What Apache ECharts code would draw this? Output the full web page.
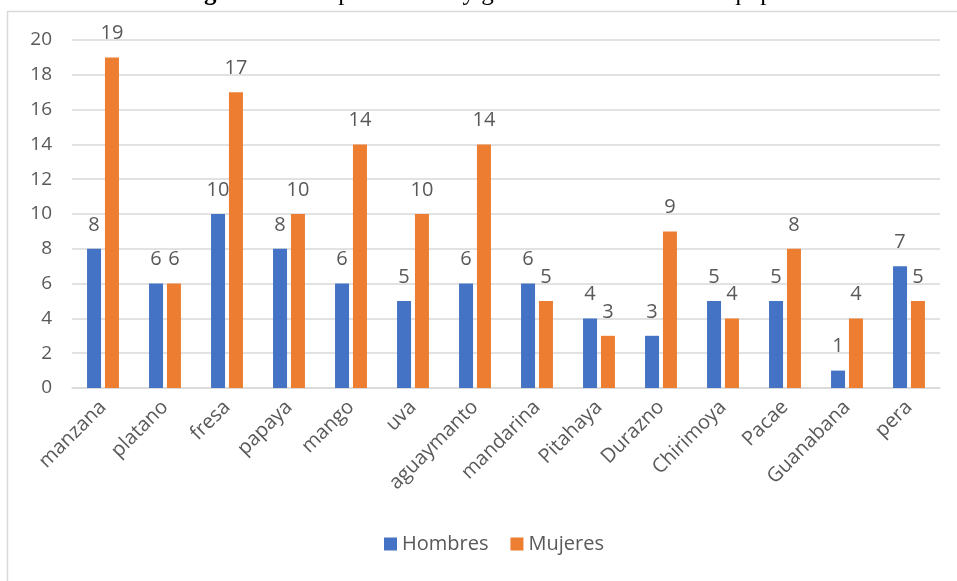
<!DOCTYPE html>
<html>
<head>
<meta charset="utf-8">
<script src="https://cdn.jsdelivr.net/npm/echarts@6/dist/echarts.min.js"></script>
<style>
  html, body { margin: 0; padding: 0; background: #fff; }
  #main { width: 957px; height: 581px; }
</style>
</head>
<body>
<div id="main"></div>
<script>
  // frutas
  var categories = ['manzana', 'platano', 'fresa', 'papaya', 'mango', 'uva', 'aguaymanto',
    'mandarina', 'Pitahaya', 'Durazno', 'Chirimoya', 'Pacae', 'Guanabana', 'pera'];
  var hombres = [8, 6, 10, 8, 6, 5, 6, 6, 4, 3, 5, 5, 1, 7];
  var mujeres = [19, 6, 17, 10, 14, 10, 14, 5, 3, 9, 4, 8, 4, 5];
  var yTicks = [0, 2, 4, 6, 8, 10, 12, 14, 16, 18, 20];

  var font = '"Open Sans", sans-serif';
  var gray = '#595959';

  var myChart = echarts.init(document.getElementById('main'));

  var labelStyle = {
    show: true,
    position: 'top',
    distance: 14,
    color: gray,
    fontFamily: font,
    fontSize: 20
  };

  myChart.setOption({
    animation: false,
    backgroundColor: '#fff',
    graphic: [
      {
        // marco del grafico
        type: 'rect',
        shape: { x: 7.5, y: 11.5, width: 1000, height: 620 },
        style: { fill: 'none', stroke: '#d9d9d9', lineWidth: 1.5 },
        silent: true
      },
      {
        // titulo cortado arriba
        type: 'text',
        x: 486,
        y: 6,
        style: {
          text: '{b|Figure 1.} Fruit preference by gender of farmers in Arequipa.',
          textAlign: 'center',
          textVerticalAlign: 'bottom',
          fill: '#000',
          font: '25px "Liberation Serif", serif',
          rich: {
            b: { fontWeight: 'bold', fontFamily: '"Liberation Serif", serif', fontSize: 25 }
          }
        }
      }
    ],
    legend: {
      data: ['Hombres', 'Mujeres'],
      left: 379,
      bottom: 22,
      itemWidth: 13,
      itemHeight: 13,
      itemGap: 22,
      icon: 'rect',
      textStyle: { color: gray, fontFamily: font, fontSize: 20 }
    },
    grid: {
      left: 72,
      right: 17,
      top: 40,
      bottom: 193,
      containLabel: false
    },
    xAxis: {
      type: 'category',
      data: categories,
      axisLine: { lineStyle: { color: '#d9d9d9', width: 1.5 } },
      axisTick: { show: false },
      axisLabel: {
        interval: 0,
        rotate: 45,
        margin: 16,
        color: gray,
        fontFamily: font,
        fontSize: 20
      }
    },
    yAxis: {
      type: 'value',
      min: yTicks[0],
      max: yTicks[yTicks.length - 1],
      interval: 2,
      axisLine: { show: false },
      axisTick: { show: false },
      axisLabel: { color: gray, fontFamily: font, fontSize: 19, margin: 20 },
      splitLine: { lineStyle: { color: '#d9d9d9', width: 1.5 } }
    },
    series: [
      {
        name: 'Hombres',
        type: 'bar',
        data: hombres,
        barWidth: 14,
        barGap: '28%',
        itemStyle: { color: '#4472C4' },
        label: labelStyle
      },
      {
        name: 'Mujeres',
        type: 'bar',
        data: mujeres,
        barWidth: 14,
        barGap: '28%',
        itemStyle: { color: '#ED7D31' },
        label: labelStyle
      }
    ]
  });

  window.addEventListener('resize', function () {
    myChart.resize();
  });
</script>
</body>
</html>
